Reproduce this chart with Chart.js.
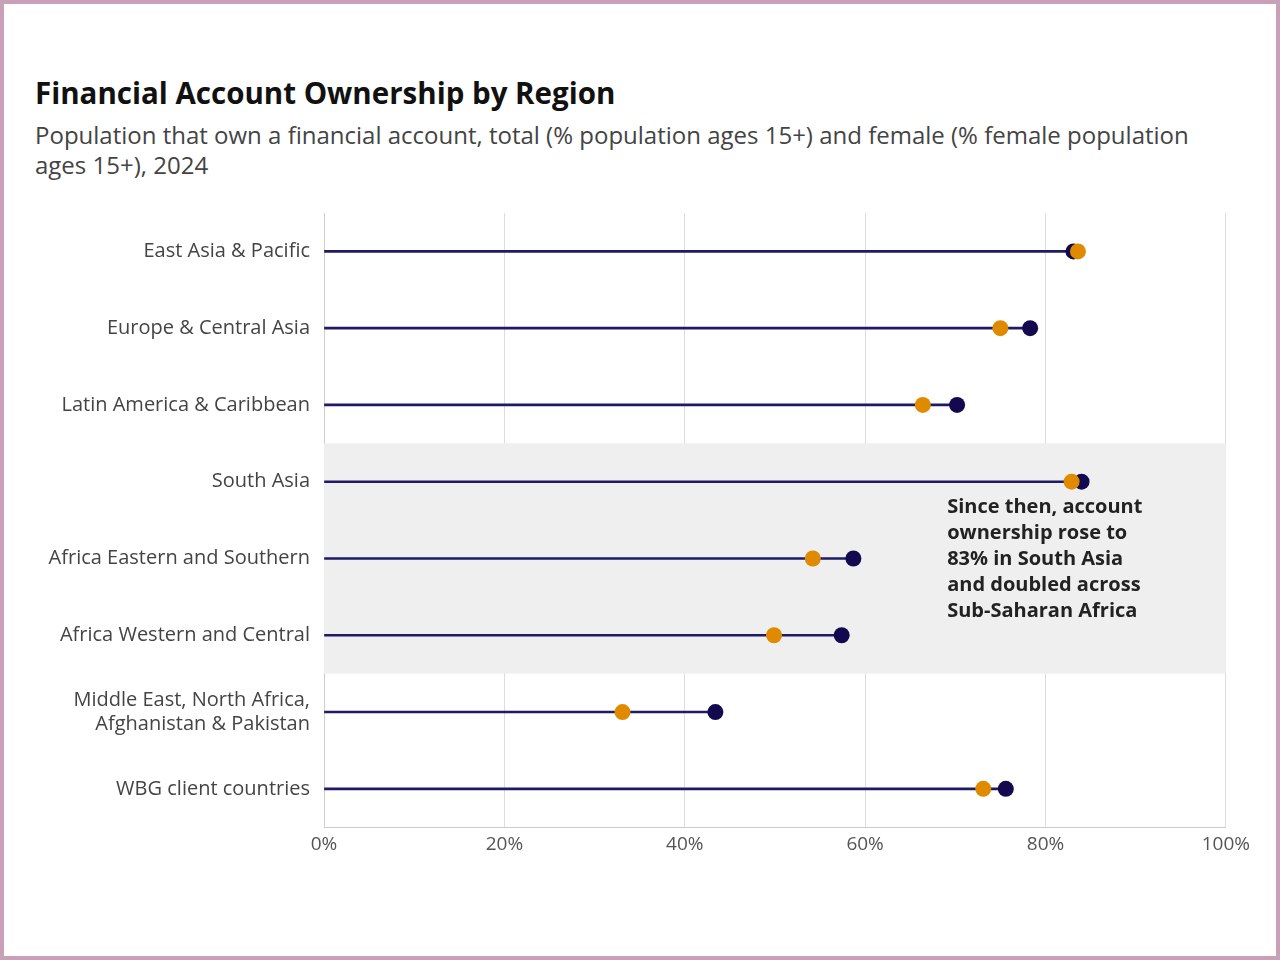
<!DOCTYPE html>
<html><head><meta charset="utf-8">
<script src="https://cdn.jsdelivr.net/npm/chart.js@4/dist/chart.umd.min.js"></script>
<style>
html,body{margin:0;padding:0;background:#fff;}
#frame{position:absolute;left:0;top:0;width:1272px;height:952px;border:4px solid #c9a0b8;background:#fff;font-family:"Open Sans",sans-serif;}
#title{position:absolute;left:31px;top:68px;font-size:29.5px;font-weight:bold;color:#111;}
#sub{position:absolute;left:31px;top:116px;width:1190px;font-size:24px;color:#444;line-height:30px;}
#wrap{position:absolute;left:12px;top:191px;width:1240px;height:667px;}
</style></head><body>
<div id="frame">
<div id="title">Financial Account Ownership by Region</div>
<div id="sub">Population that own a financial account, total (% population ages 15+) and female (% female population ages 15+), 2024</div>
<div id="wrap"><canvas id="c"></canvas></div>
</div>
<script>
const categories=["East Asia & Pacific","Europe & Central Asia","Latin America & Caribbean","South Asia","Africa Eastern and Southern","Africa Western and Central",["Middle East, North Africa,","Afghanistan & Pakistan"],"WBG client countries"];
const totalValues=[83.1,78.3,70.2,84.0,58.7,57.4,43.4,75.6];
const femaleValues=[83.6,75.0,66.4,82.9,54.2,49.9,33.1,73.1];
const tickValues=[0,20,40,60,80,100];
const noteLines=["Since then, account","ownership rose to","83% in South Asia","and doubled across","Sub-Saharan Africa"];

const bgPlugin={id:'bg',beforeDatasetsDraw(ch){
 const {ctx,chartArea:a,scales:{y}}=ch;
 const step=y.getPixelForValue(1)-y.getPixelForValue(0);
 const t=y.getPixelForValue(3)-step/2, b=y.getPixelForValue(5)+step/2;
 ctx.save();ctx.fillStyle='#efefef';ctx.fillRect(a.left,t,a.right-a.left,b-t);ctx.restore();
},afterDatasetsDraw(ch){
 const {ctx,scales:{x,y}}=ch;
 ctx.save();ctx.font='bold 20px "Open Sans"';ctx.fillStyle='#222';ctx.textBaseline='middle';
 const x0=x.getPixelForValue(69.1);const y0=y.getPixelForValue(3)+26;
 noteLines.forEach((l,i)=>ctx.fillText(l,x0,y0+i*26));ctx.restore();
}};

new Chart(document.getElementById('c'),{
 data:{labels:categories,datasets:[
  {type:'bar',data:totalValues.map(v=>[0,v]),backgroundColor:'#1f1a66',barThickness:2,order:3},
  {type:'line',data:totalValues,showLine:false,pointRadius:8,pointHoverRadius:8,pointBackgroundColor:'#12094f',pointBorderWidth:0,order:2},
  {type:'line',data:femaleValues,showLine:false,pointRadius:8,pointHoverRadius:8,pointBackgroundColor:'#e08a00',pointBorderWidth:0,order:1}
 ]},
 options:{indexAxis:'y',responsive:true,maintainAspectRatio:false,animation:false,
  layout:{padding:{top:17,right:24,bottom:0}},
  plugins:{legend:{display:false},tooltip:{enabled:false}},
  scales:{
   x:{min:0,max:100,afterBuildTicks(s){s.ticks=tickValues.map(v=>({value:v}));},
      ticks:{callback:v=>v+'%',color:'#555',font:{family:'Open Sans',size:19},padding:6},
      grid:{color:'#dddddd',drawTicks:false},border:{color:'#cccccc'}},
   y:{afterFit(s){s.width=308;},ticks:{color:'#444',font:{family:'Open Sans',size:20},padding:6},
      grid:{display:false},border:{color:'#cccccc'}}
  }},
 plugins:[bgPlugin]
});
</script></body></html>
